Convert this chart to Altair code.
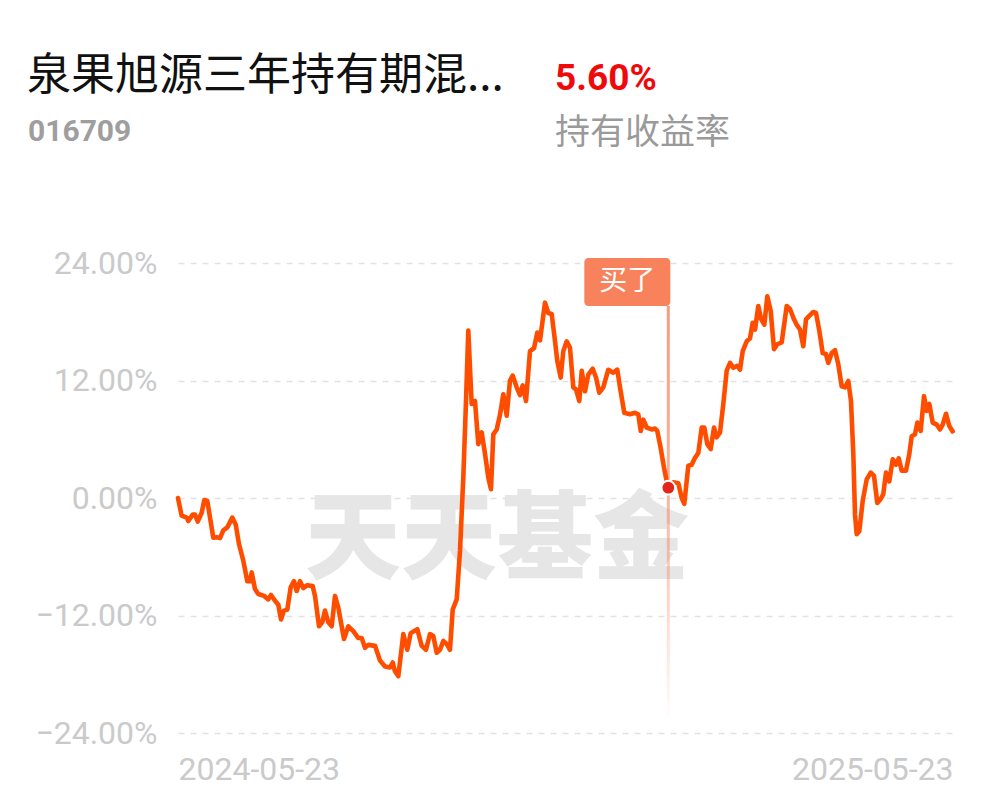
import altair as alt
import pandas as pd

# ---- data ----
days = [0, 1.7, 4.1, 4.85, 6.92, 8.0, 9.28, 11.16, 12.39, 13.8, 16.62, 18.23, 19.78, 21.33, 23.22,
        25.57, 27.17, 28.73, 30.75, 32.64, 33.91, 34.71, 36.26, 37.82, 40.5, 42.53, 43.8, 45.68,
        47.24, 48.51, 49.92, 51.48, 53.08, 54.63, 55.9, 57.46, 59.01, 60.9, 63.44, 64.52, 66.41,
        67.96, 69.23, 70.79, 72.39, 73.94, 75.5, 78.18, 80.21, 82.56, 84.92, 86.52, 88.07, 89.63,
        92.78, 95.14, 97.49, 99.85, 101.12, 102.2, 103.76, 106.11, 107.99, 109.59, 112.7, 114.78,
        116.8, 118.68, 120.24, 121.84, 123.39, 124.95, 126.55, 128.1, 129.38, 131.26, 132.81,
        134.37, 135.64, 136.72, 137.52, 138.32, 139.88, 141.43, 143.03, 144.59, 146.14, 147.41,
        148.5, 150.1, 151.65, 153.21, 154.81, 156.36, 157.63, 159.51, 161.07, 162.34, 163.9,
        165.78, 167.67, 169.22, 170.49, 172.85, 174.4, 176.0, 177.56, 178.64, 180.24, 181.47,
        183.06, 184.62, 186.17, 187.45, 189.0, 190.13, 191.69, 193.24, 195.31, 196.87, 198.42,
        200.3, 202.66, 205.01, 206.9, 208.17, 210.19, 212.88, 215.23, 216.79, 217.92, 219.14,
        220.74, 223.1, 224.65, 225.73, 227.34, 228.89, 230.16, 230.92, 233.27, 235.63, 237.23,
        238.45, 240.34, 241.94, 243.49, 245.05, 246.65, 247.87, 249.29, 250.89, 252.44, 253.71,
        255.27, 256.82, 258.42, 259.98, 261.53, 263.41, 264.69, 265.96, 267.84, 269.39, 270.66,
        271.75, 273.3, 274.58, 276.13, 277.55, 279.14, 280.7, 282.25, 284.32, 286.68, 288.23,
        290.12, 291.39, 292.94, 294.5, 295.77, 297.32, 299.21, 300.48, 302.03, 303.63, 305.19,
        306.27, 307.87, 309.43, 310.98, 312.58, 314.14, 315.69, 316.96, 318.05, 318.85, 319.65,
        320.87, 322.47, 324.36, 326.24, 327.8, 329.35, 330.95, 332.18, 333.45, 335.0, 336.6,
        338.16, 339.43, 340.84, 342.87, 344.42, 345.55, 347.1, 348.19, 349.78, 351.34, 352.61,
        353.84, 355.43, 357.32, 358.88, 360.15, 361.71, 363.26, 364.86]

returns = [0.0, -1.8, -2.0, -2.35, -1.7, -1.7, -2.4, -1.5, -0.2, -0.3, -4.05, -4.0, -4.1, -3.3, -3.0,
           -2.0, -2.7, -4.7, -6.4, -8.5, -8.5, -7.6, -9.3, -9.8, -10.0, -10.35, -9.9, -10.5,
           -10.9, -12.4, -11.5, -11.4, -9.1, -8.5, -9.5, -8.5, -9.2, -8.9, -9.0, -10.0, -13.1,
           -12.7, -11.5, -12.7, -13.1, -10.0, -11.2, -14.4, -13.1, -13.6, -14.3, -14.3, -15.3, -15.0,
           -15.1, -16.6, -17.2, -17.3, -16.8, -17.7, -18.2, -13.9, -15.5, -13.8, -13.4, -15.1,
           -15.5, -13.9, -14.1, -15.8, -15.5, -14.6, -14.9, -15.5, -11.4, -10.35, -5.4,
           2.1, 9.9, 17.1, 13.3, 9.6, 9.9, 5.5, 6.7, 4.5, 2.1, 0.9,
           6.5, 7.0, 8.5, 10.6, 8.4, 12.0, 12.5, 11.3, 10.5, 11.5, 9.9,
           15.0, 15.3, 16.9, 16.1, 19.95, 18.9, 18.8, 16.0, 14.0, 12.3, 15.0,
           16.0, 15.35, 11.3, 11.1, 9.9, 13.0, 10.9, 12.6, 13.2, 12.3, 10.75,
           11.3, 13.1, 12.8, 13.1, 11.3, 8.7, 8.55, 8.7, 8.55, 6.85, 8.0,
           7.2, 7.0, 7.1, 6.85, 5.1, 3.1, 1.7, 1.05, 1.6, 1.5, 0.0,
           -0.6, 3.3, 3.4, 4.1, 4.6, 7.2, 7.2, 5.5, 5.0, 7.2, 6.2,
           6.7, 9.6, 13.0, 13.8, 13.3, 13.5, 13.1, 15.0, 16.0, 16.3, 17.9,
           17.2, 19.6, 18.3, 17.7, 20.6, 19.1, 15.2, 15.7, 15.9, 19.6, 19.3,
           18.25, 17.7, 17.2, 15.5, 18.25, 18.6, 19.0, 18.9, 17.1, 14.8, 14.7,
           13.8, 14.8, 15.1, 13.65, 11.4, 11.3, 11.95, 9.9, 4.5, -1.7, -3.7,
           -3.4, -0.3, 1.9, 2.6, 2.25, -0.5, -0.1, 0.4, 2.6, 1.7, 3.95,
           3.4, 4.05, 2.8, 2.8, 4.5, 6.3, 6.5, 7.7, 6.85, 10.4, 8.9,
           9.6, 7.7, 7.5, 7.0, 7.5, 8.6, 7.35, 6.8]

y_ticks = [-24, -12, 0, 12, 24]
x_tick_days = [0, 365]
x_tick_labels = ["2024-05-23", "2025-05-23"]

buy_day = [230.92]
buy_value = [1.05]
buy_label = ["买了"]

fund_name = "泉果旭源三年持有期混..."
fund_code = "016709"
hold_return = "5.60%"
hold_return_label = "持有收益率"
watermark = "天天基金"

# ---- chart ----
df = pd.DataFrame({"day": days, "ret": returns})
buy_df = pd.DataFrame({"day": buy_day, "ret": buy_value, "label": buy_label})

label_expr = " : ".join(
    [f"datum.value == {d} ? '{t}'" for d, t in zip(x_tick_days[:-1], x_tick_labels[:-1])]
    + [f"'{x_tick_labels[-1]}'"]
)

x_scale = alt.Scale(domain=[0, 365], nice=False, zero=False)
y_scale = alt.Scale(domain=[-24, 24], nice=False)

x_enc = alt.X("day:Q", scale=x_scale, axis=alt.Axis(
    values=x_tick_days, labelExpr=label_expr, labelFlush=True, grid=False, domain=False,
    ticks=False, tickSize=0, labelPadding=21, labelFontSize=32, labelColor="#cacaca",
    labelFont="Roboto", title=None))
y_enc = alt.Y("ret:Q", scale=y_scale, axis=alt.Axis(
    values=y_ticks, labelExpr="format(datum.value, '.2f') + '%'", grid=True,
    gridDash=[6, 6], gridColor="#e2e2e2", gridWidth=1.6, domain=False, ticks=False,
    tickSize=0, labelPadding=21, labelFontSize=32, labelColor="#cacaca",
    labelFont="Roboto", title=None))

base_line = alt.Chart(df).mark_line(
    color="#ff4d00", strokeWidth=4.6, strokeJoin="round", strokeCap="round"
).encode(x=x_enc, y=y_enc)

text_df = pd.DataFrame({"w": [watermark]})
wm = alt.Chart(text_df).mark_text(
    font="Noto Sans CJK SC", fontWeight=900, fontSize=96, color="#e6e6e6",
    align="center", baseline="middle"
).encode(text="w:N", x=alt.value(319), y=alt.value(279))

grad = alt.Gradient(
    gradient="linear", x1=0, x2=0, y1=0, y2=1,
    stops=[alt.GradientStop(offset=0, color="rgba(247,130,92,0.8)"),
           alt.GradientStop(offset=0.45, color="rgba(247,130,92,0.6)"),
           alt.GradientStop(offset=1, color="rgba(247,130,92,0.0)")])
vbar = alt.Chart(buy_df).mark_rect(fill=grad, xOffset=-1.5, x2Offset=1.5).encode(
    x=alt.X("day:Q", scale=x_scale), x2="day:Q",
    y=alt.value(43), y2=alt.value(462))

box = alt.Chart(buy_df).mark_rect(
    color="#f7825c", cornerRadius=4, xOffset=-84, x2Offset=2
).encode(x=alt.X("day:Q", scale=x_scale), x2="day:Q", y=alt.value(-5), y2=alt.value(43))

box_text = alt.Chart(buy_df).mark_text(
    color="white", fontSize=28, font="Noto Sans CJK SC", align="center",
    baseline="middle", dx=-41
).encode(x=alt.X("day:Q", scale=x_scale), y=alt.value(19), text="label:N")

dot = alt.Chart(buy_df).mark_point(
    filled=True, fill="#e3261c", stroke="white", strokeWidth=2, size=190, opacity=1
).encode(x=alt.X("day:Q", scale=x_scale), y=alt.Y("ret:Q", scale=y_scale))

hdr = pd.DataFrame({
    "t": [fund_name, fund_code, hold_return, hold_return_label],
})
title_t = alt.Chart(hdr.iloc[[0]]).mark_text(
    font="Noto Sans CJK SC", fontSize=44, color="#111111", align="left", baseline="middle"
).encode(text="t:N", x=alt.value(-151), y=alt.value(-186))
code_t = alt.Chart(hdr.iloc[[1]]).mark_text(
    font="Roboto", fontWeight="bold", fontSize=30, color="#9e9e9e", align="left",
    baseline="middle"
).encode(text="t:N", x=alt.value(-150), y=alt.value(-131))
ret_t = alt.Chart(hdr.iloc[[2]]).mark_text(
    font="Roboto", fontWeight="bold", fontSize=37, color="#ee0a0a", align="left",
    baseline="middle"
).encode(text="t:N", x=alt.value(377), y=alt.value(-184))
retl_t = alt.Chart(hdr.iloc[[3]]).mark_text(
    font="Noto Sans CJK SC", fontSize=35, color="#9a9a9a", align="left",
    baseline="middle"
).encode(text="t:N", x=alt.value(377), y=alt.value(-130))

chart = alt.layer(
    wm, vbar, base_line, box, box_text, dot, title_t, code_t, ret_t, retl_t
).properties(
    width=775, height=470,
    padding={"left": 170, "top": 255, "right": 30, "bottom": 60},
    autosize=alt.AutoSizeParams(type="none"),
    background="white",
).configure_view(stroke=None)

chart.save("out.html", embed_options={"renderer": "svg", "actions": False})
